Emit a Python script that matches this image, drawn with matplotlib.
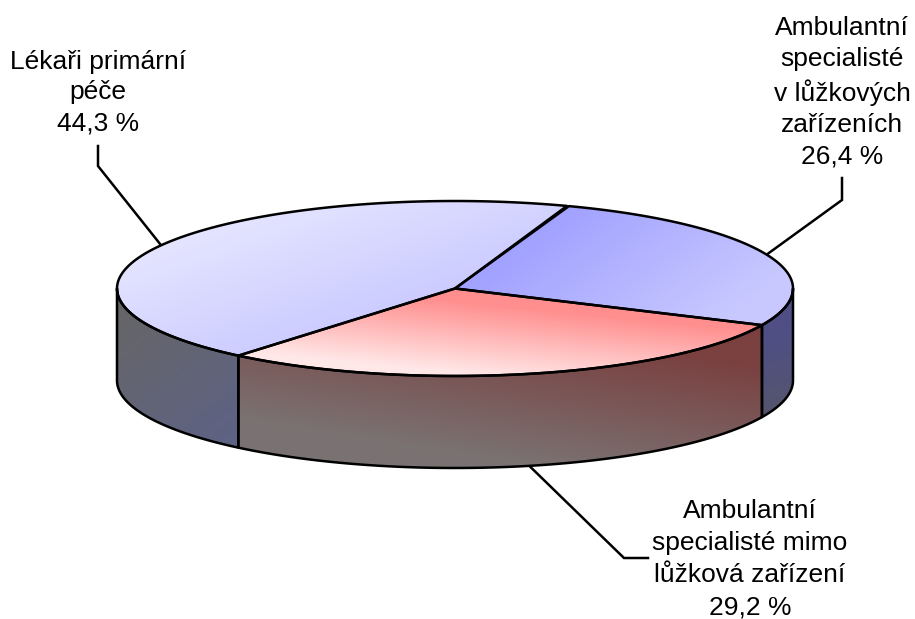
import numpy as np
import matplotlib
matplotlib.use("Agg")
import matplotlib.pyplot as plt
from matplotlib.path import Path
from matplotlib.patches import PathPatch

labels = [
    "Lékaři primární\npéče\n44,3 %",
    "Ambulantní\nspecialisté\nv lůžkových\nzařízeních\n26,4 %",
    "Ambulantní\nspecialisté mimo\nlůžková zařízení\n29,2 %",
]
values = [44.3, 26.4, 29.2]
order = [1, 2, 0]  # clockwise from the top boundary

CX, CY = 455, 288.5
RX, RY = 338, 87.5
DEPTH = 92
START = 70.3

top_colors = [
    ("#e6e6ff", "#cbcbff", (250, 205), (300, 345)),
    ("#a0a0ff", "#c8c8ff", (560, 205), (675, 355)),
    ("#ff8e8e", "#ffe8e8", (465, 302), (458, 373)),
]
side_colors = {
    "left": ("#666666", "#5e6285", (120, 300), (235, 445)),
    "front": ("#7b4040", "#7a7272", (742, 362), (721, 495)),
    "right": ("#4f4f85", "#56566a", (765, 340), (790, 420)),
}


def ell(t, dy=0):
    t = np.radians(t)
    return np.column_stack([CX + RX * np.cos(t), CY - RY * np.sin(t) + dy])


def grad_fill(ax, verts, c0, c1, p0, p1):
    path = Path(np.vstack([verts, verts[0]]), closed=True)
    x0, y0 = verts.min(axis=0)
    x1, y1 = verts.max(axis=0)
    xs, ys = np.meshgrid(np.linspace(x0, x1, 300), np.linspace(y0, y1, 200))
    d = np.array(p1, float) - np.array(p0, float)
    t = ((xs - p0[0]) * d[0] + (ys - p0[1]) * d[1]) / (d @ d)
    t = np.clip(t, 0, 1)[..., None]
    rgb = (1 - t) * np.array(matplotlib.colors.to_rgb(c0)) + t * np.array(matplotlib.colors.to_rgb(c1))
    im = ax.imshow(rgb, extent=(x0, x1, y1, y0), aspect="auto", zorder=2, interpolation="bilinear")
    im.set_clip_path(PathPatch(path, transform=ax.transData))
    ax.add_patch(PathPatch(path, fc="none", ec="black", lw=1.8, zorder=3, joinstyle="round"))


def side_face(ax, a, b, key):
    ts = np.linspace(a, b, 60)
    verts = np.vstack([ell(ts), ell(ts[::-1], DEPTH)])
    grad_fill(ax, verts, *side_colors[key])


plt.rcParams["font.family"] = ["Liberation Sans", "DejaVu Sans"]
fig = plt.figure(figsize=(9.15, 6.19), dpi=100)
ax = fig.add_axes([0, 0, 1, 1])

# slice angles, clockwise from START
angles = {}
a = START
for i in order:
    b = a - values[i] * 3.6
    angles[i] = (a, b)
    a = b

# sides: only the front half of the rim shows
b_right = angles[1][1]
b_left = angles[2][1]
side_face(ax, 180, b_left + 360, "left")
side_face(ax, b_left, b_right, "front")
side_face(ax, b_right, 0, "right")

for i in range(3):
    a, b = angles[i]
    ts = np.linspace(a, b, 150)
    verts = np.vstack([[CX, CY], ell(ts)])
    grad_fill(ax, verts, *top_colors[i])

# label leaders start from the middle of each slice
text_pos = [(98, 92.5), (842, 92), (750, 559)]
spacing = [1.36, 1.38, 1.43]
knee = [[(98, 166), (98, 146)], [(842, 200), (842, 178)], [(624, 558), (648, 558)]]
for i in range(3):
    mid = sum(angles[i]) / 2
    p = ell([mid], DEPTH if i == 2 else 0)[0]
    pts = np.vstack([p, knee[i]])
    ax.plot(pts[:, 0], pts[:, 1], color="black", lw=1.8, zorder=1, solid_joinstyle="miter")
    ax.text(*text_pos[i], labels[i], ha="center", va="center", fontsize=19, linespacing=spacing[i], color="black")

ax.set_xlim(0, 915)
ax.set_ylim(619, 0)
ax.axis("off")
fig.savefig("out.png", dpi=100)
